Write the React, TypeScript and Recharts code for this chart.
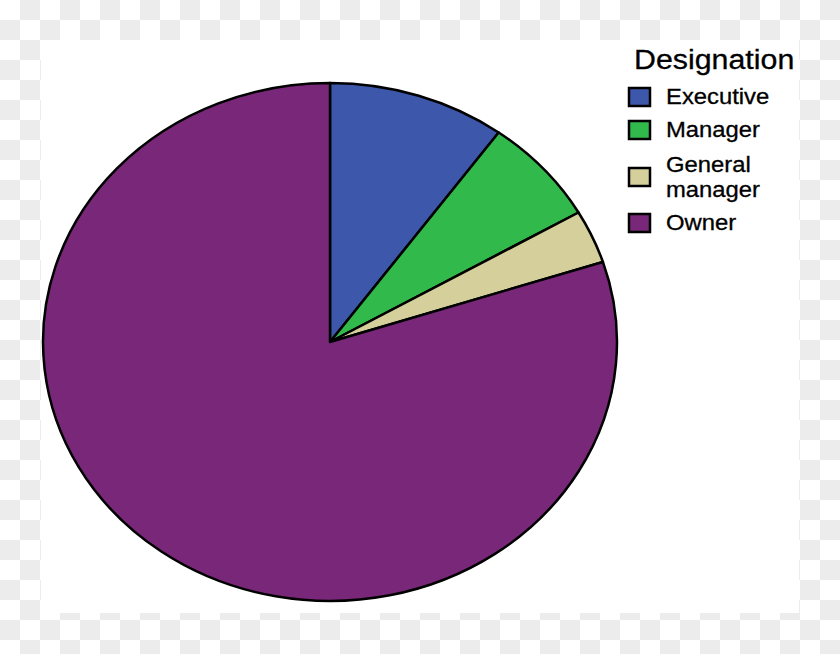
import React from "react";
import { PieChart, Pie, Cell, Legend } from "recharts";

const categories = ["Executive", "Manager", "General manager", "Owner"];
const counts = [3, 2, 1, 24];
const colors = ["#3d58aa", "#32b94b", "#d4cf9b", "#792879"];
const legendTitle = "Designation";

const data = categories.map((name, i) => ({ name, value: counts[i] }));

const RAD = Math.PI / 180;
const STRETCH = 1.108;

const EllipseSector = (props: any) => {
  const { cx, cy, outerRadius, startAngle, endAngle, fill } = props;
  const rx = outerRadius * STRETCH;
  const ry = outerRadius;
  const pt = (a: number) => [cx + rx * Math.cos(-a * RAD), cy + ry * Math.sin(-a * RAD)];
  const [x1, y1] = pt(startAngle);
  const [x2, y2] = pt(endAngle);
  const delta = Math.abs(startAngle - endAngle);
  const large = delta > 180 ? 1 : 0;
  const sweep = startAngle > endAngle ? 1 : 0;
  const d = `M${cx},${cy} L${x1},${y1} A${rx},${ry} 0 ${large} ${sweep} ${x2},${y2} Z`;
  return <path d={d} fill={fill} stroke="#000" strokeWidth={2.5} strokeLinejoin="round" />;
};

const font = "'Liberation Sans', Arial, sans-serif";

const LegendContent = () => {
  const rows = [
    { sq: 88, lines: [104] },
    { sq: 121, lines: [137] },
    { sq: 168, lines: [172, 197] },
    { sq: 214, lines: [230] },
  ];
  return (
    <svg width={840} height={654} style={{ position: "absolute", left: 0, top: 0 }}>
      <text
        transform={`translate(634,69) scale(${STRETCH},1)`}
        fontFamily={font}
        fontSize={27.4}
        fill="#000"
        stroke="#000"
        strokeWidth={0.3}
      >
        {legendTitle}
      </text>
      {categories.map((c, i) => {
        const parts = c === "General manager" ? ["General", "manager"] : [c];
        return (
          <g key={c}>
            <rect x={629} y={rows[i].sq} width={21} height={18} fill={colors[i]} stroke="#000" strokeWidth={2.5} />
            {parts.map((p, j) => (
              <text
                key={p}
                transform={`translate(666,${rows[i].lines[j]}) scale(${STRETCH},1)`}
                fontFamily={font}
                fontSize={21.5}
                fill="#000"
                stroke="#000"
                strokeWidth={0.3}
              >
                {p}
              </text>
            ))}
          </g>
        );
      })}
    </svg>
  );
};

export default function App() {
  return (
    <div
      style={{
        position: "fixed",
        left: 0,
        top: 0,
        width: 840,
        height: 654,
        backgroundColor: "#fff",
        backgroundImage:
          "conic-gradient(#ececec 0 25%, #ffffff 0 50%, #ececec 0 75%, #ffffff 0)",
        backgroundSize: "40px 40px",
        overflow: "hidden",
      }}
    >
      <div
        style={{
          position: "absolute",
          left: 41,
          top: 40,
          width: 758,
          height: 573,
          background: "#fff",
        }}
      />
      <div style={{ position: "absolute", left: 0, top: 0 }}>
        <PieChart width={840} height={654} margin={{ top: 0, right: 0, bottom: 0, left: 0 }}>
          <Pie
            data={data}
            dataKey="value"
            nameKey="name"
            cx={330}
            cy={342}
            outerRadius={259}
            startAngle={90}
            endAngle={-270}
            paddingAngle={0}
            stroke="#000"
            strokeWidth={2.5}
            isAnimationActive={false}
            shape={EllipseSector}
            activeShape={EllipseSector}
            inactiveShape={EllipseSector}
            label={false}
            labelLine={false}
          >
            {data.map((d, i) => (
              <Cell key={d.name} fill={colors[i]} />
            ))}
          </Pie>
          <Legend
            content={<LegendContent />}
            wrapperStyle={{ position: "absolute", left: 0, top: 0, width: 840, height: 654 }}
          />
        </PieChart>
      </div>
    </div>
  );
}
